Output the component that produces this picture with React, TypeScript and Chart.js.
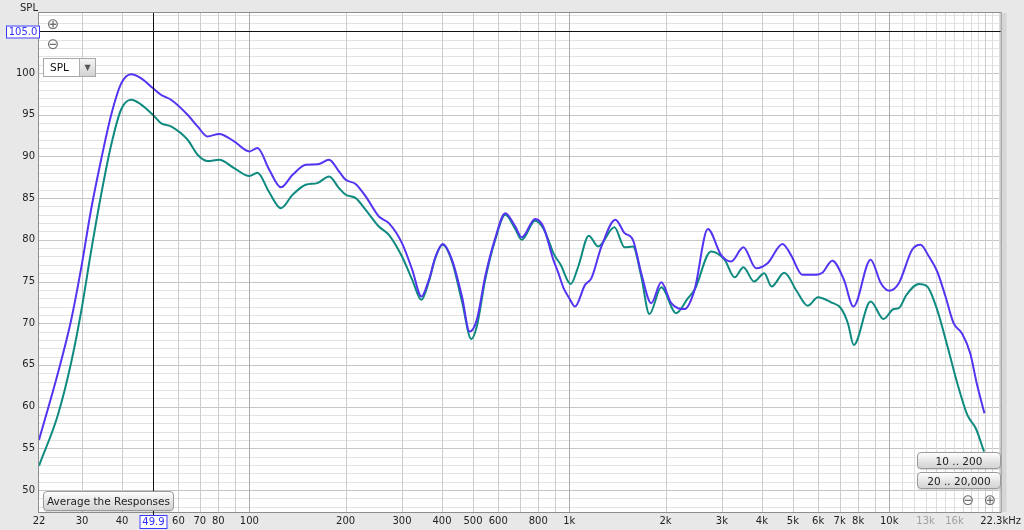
import React, { useEffect, useRef } from "react";
import { Chart, registerables } from "chart.js";

Chart.register(...registerables);

// ---- data ----
const upperFreq = [22, 25.2, 27.7, 29.8, 32, 34.4, 37, 39.7, 42.7, 45.8, 49.9, 52.9, 56.9, 64.1, 68.9, 74, 80.5, 89.6, 100, 106, 115.4, 125.5, 136.5, 150.4, 163.4, 177.5, 190.6, 200, 214.8, 231, 254, 273, 300, 323, 345, 364, 382, 402, 430, 462, 488, 514, 546, 587, 631, 678, 710, 782, 829, 892, 925, 960, 1000, 1042, 1120, 1173, 1261, 1394, 1490, 1581, 1679, 1804, 1939, 2084, 2294, 2464, 2712, 2981, 3205, 3502, 3834, 4167, 4642, 4928, 5356, 5823, 6180, 6640, 7222, 7730, 8750, 9420, 10000, 10720, 11800, 12530, 13310, 14130, 15000, 15900, 16880, 17920, 18780, 19850];
const upperSpl = [56.0, 64.0, 70.3, 76.6, 83.6, 89.6, 95.0, 98.7, 99.85, 99.4, 98.2, 97.4, 96.8, 95.0, 93.6, 92.4, 92.7, 91.8, 90.6, 91.0, 88.4, 86.3, 87.8, 89.0, 89.05, 89.6, 88.2, 87.2, 86.7, 85.2, 82.8, 82.0, 79.6, 76.4, 73.2, 75.2, 78.0, 79.5, 77.6, 73.2, 69.0, 70.4, 75.6, 80.2, 83.2, 81.6, 80.3, 82.5, 81.6, 77.6, 76.0, 74.2, 73.0, 72.0, 74.6, 75.4, 79.2, 82.4, 80.8, 80.0, 76.0, 72.4, 74.9, 72.4, 71.7, 74.0, 81.3, 78.2, 77.4, 79.1, 76.6, 77.2, 79.5, 78.2, 75.8, 75.8, 76.05, 77.5, 75.2, 72.0, 77.6, 74.8, 73.9, 74.8, 78.8, 79.4, 78.0, 76.2, 73.2, 70.0, 68.8, 66.4, 62.8, 59.2];

const lowerFreq = [22, 25.2, 27.7, 29.8, 32, 34.4, 37, 39.7, 42.7, 45.8, 49.9, 52.9, 56.9, 64.1, 68.9, 74, 80.5, 89.6, 100, 106, 115, 125.5, 136.5, 150, 163, 177.5, 190.6, 200, 215, 231, 254, 273, 300, 323, 345, 364, 382, 402, 430, 462, 494, 514, 546, 587, 631, 678, 710, 782, 829, 870, 892, 940, 1010, 1067, 1151, 1230, 1384, 1490, 1581, 1679, 1780, 1939, 2159, 2350, 2464, 2774, 3060, 3290, 3502, 3780, 4070, 4290, 4700, 5150, 5560, 5990, 6580, 7060, 7430, 7750, 8750, 9600, 10330, 10720, 11330, 12380, 13150, 14130, 15220, 16330, 17550, 18650, 19800];
const lowerSpl = [52.9, 59.0, 65.2, 71.4, 78.6, 85.4, 91.4, 95.6, 96.8, 96.25, 95.0, 94.0, 93.6, 92.0, 90.2, 89.45, 89.6, 88.6, 87.65, 88.05, 85.8, 83.8, 85.4, 86.6, 86.8, 87.6, 86.2, 85.4, 85.0, 83.6, 81.6, 80.6, 78.0, 75.2, 72.8, 75.0, 77.9, 79.4, 77.4, 72.6, 68.1, 69.6, 75.2, 80.0, 83.0, 81.3, 80.0, 82.3, 81.4, 79.5, 78.4, 77.0, 74.7, 76.8, 80.5, 79.2, 81.5, 79.1, 79.2, 75.6, 71.1, 74.3, 71.2, 73.0, 74.0, 78.6, 77.6, 75.5, 76.7, 75.0, 76.0, 74.4, 76.05, 73.8, 72.1, 73.1, 72.5, 71.8, 70.0, 67.4, 72.6, 70.5, 71.7, 71.8, 73.4, 74.7, 74.4, 71.6, 67.2, 62.8, 59.0, 57.4, 54.6];

const xTickValues = [22, 30, 40, 60, 70, 80, 100, 200, 300, 400, 500, 600, 800, 1000, 2000, 3000, 4000, 5000, 6000, 7000, 8000, 10000, 13000, 16000, 22300];
const greyXTicks = [13000, 16000];
const yTickValues = [50, 55, 60, 65, 70, 75, 80, 85, 90, 95, 100];
const cursorFreq = 49.9;
const cursorSpl = 105.0;

const X_MIN = 22;
const X_MAX = 22300;
const Y_MIN = 47.36;
const Y_MAX = 107.2;

const FONT = '"DejaVu Sans", "Liberation Sans", sans-serif';
const UPPER_COLOR = "#5533f2";
const LOWER_COLOR = "#0e8a80";

function fmtFreq(v: number): string {
  if (v === 22300) return "22.3kHz";
  if (v >= 1000) return v / 1000 + "k";
  return String(v);
}

function gridFreqs(): number[] {
  const out: number[] = [];
  for (const d of [10, 100, 1000]) {
    for (let m = 1; m <= 9; m++) {
      const f = m * d;
      if (f >= X_MIN && f <= X_MAX) out.push(f);
    }
  }
  for (let f = 10000; f <= 22000; f += 1000) out.push(f);
  return out;
}

const rewPlugin = {
  id: "rewPlugin",
  beforeDraw(chart: any) {
    const { ctx, chartArea: a, scales } = chart;
    const x = scales.x;
    const y = scales.y;
    ctx.save();
    ctx.fillStyle = "#e8e8e8";
    ctx.fillRect(0, 0, chart.width, chart.height);
    ctx.fillStyle = "#d6d6d6";
    ctx.fillRect(a.right, a.top, 6, a.bottom - a.top);
    ctx.fillStyle = "#ffffff";
    ctx.fillRect(a.left, a.top, a.right - a.left, a.bottom - a.top);
    ctx.lineWidth = 1;
    for (const major of [false, true]) {
      for (let v = Math.ceil(Y_MIN); v <= Math.floor(Y_MAX); v++) {
        const isMajor = v % 5 === 0;
        if (isMajor !== major) continue;
        const py = Math.round(y.getPixelForValue(v)) + 0.5;
        ctx.strokeStyle = isMajor ? "#c6c6c6" : "#e3e3e3";
        ctx.beginPath();
        ctx.moveTo(a.left, py);
        ctx.lineTo(a.right, py);
        ctx.stroke();
      }
    }
    for (const f of gridFreqs()) {
      const px = Math.round(x.getPixelForValue(f)) + 0.5;
      const decade = f === 100 || f === 1000 || f === 10000;
      const fine = f > 10000 && f !== 20000;
      ctx.strokeStyle = decade ? "#a9a9a9" : fine ? "#dcdcdc" : "#cccccc";
      ctx.beginPath();
      ctx.moveTo(px, a.top);
      ctx.lineTo(px, a.bottom);
      ctx.stroke();
    }
    ctx.restore();
  },
  afterDatasetsDraw(chart: any) {
    const { ctx, chartArea: a, scales } = chart;
    const x = scales.x;
    const y = scales.y;
    ctx.save();
    ctx.strokeStyle = "#8e8e8e";
    ctx.lineWidth = 1;
    ctx.strokeRect(a.left - 0.5, a.top - 0.5, a.right - a.left + 1, a.bottom - a.top + 1);
    const cx = Math.round(x.getPixelForValue(cursorFreq)) + 0.5;
    const cy = Math.round(y.getPixelForValue(cursorSpl)) + 0.5;
    ctx.strokeStyle = "#111111";
    ctx.beginPath();
    ctx.moveTo(cx, a.top);
    ctx.lineTo(cx, a.bottom + 5);
    ctx.moveTo(a.left, cy);
    ctx.lineTo(a.right, cy);
    ctx.stroke();
    ctx.font = "10px " + FONT;
    ctx.textBaseline = "middle";
    ctx.textAlign = "center";
    const drawBox = (text: string, bx: number, by: number, bw: number, bh: number) => {
      ctx.fillStyle = "#ffffff";
      ctx.fillRect(bx, by, bw, bh);
      ctx.strokeStyle = "#3a3aff";
      ctx.strokeRect(bx + 0.5, by + 0.5, bw - 1, bh - 1);
      ctx.fillStyle = "#2f2fff";
      ctx.fillText(text, bx + bw / 2, by + bh / 2 + 0.5);
    };
    drawBox(cursorFreq.toFixed(1), cx - 14, a.bottom + 3, 28, 14);
    drawBox(cursorSpl.toFixed(1), 6, cy - 6, 34, 13);
    ctx.restore();
  },
};

const btn: React.CSSProperties = {
  position: "absolute",
  boxSizing: "border-box",
  border: "1px solid #9a9a9a",
  borderRadius: 4,
  background: "linear-gradient(#fdfdfd, #e2e2e2 60%, #d4d4d4)",
  fontFamily: FONT,
  fontSize: 10.5,
  color: "#222",
  display: "flex",
  alignItems: "center",
  justifyContent: "center",
  boxShadow: "0 1px 1px rgba(0,0,0,0.15)",
};

const sym: React.CSSProperties = {
  position: "absolute",
  fontFamily: FONT,
  fontSize: 15,
  color: "#707070",
  lineHeight: "15px",
  width: 16,
  textAlign: "center",
};

export default function App() {
  const canvasRef = useRef<HTMLCanvasElement | null>(null);

  useEffect(() => {
    const canvas = canvasRef.current;
    if (!canvas) return;
    const chart = new Chart(canvas, {
      type: "line",
      data: {
        datasets: [
          {
            label: "Response 1",
            data: upperFreq.map((f, i) => ({ x: f, y: upperSpl[i] })),
            borderColor: UPPER_COLOR,
            borderWidth: 2,
            pointRadius: 0,
            fill: false,
            cubicInterpolationMode: "monotone",
          },
          {
            label: "Response 2",
            data: lowerFreq.map((f, i) => ({ x: f, y: lowerSpl[i] })),
            borderColor: LOWER_COLOR,
            borderWidth: 2,
            pointRadius: 0,
            fill: false,
            cubicInterpolationMode: "monotone",
          },
        ],
      },
      options: {
        animation: false,
        responsive: false,
        maintainAspectRatio: false,
        events: [],
        layout: { padding: { top: 13, right: 20, left: 0, bottom: 0 } },
        plugins: { legend: { display: false }, tooltip: { enabled: false } },
        scales: {
          x: {
            type: "logarithmic",
            min: X_MIN,
            max: X_MAX,
            grid: { display: false, drawTicks: false },
            border: { display: false },
            afterBuildTicks: (s: any) => {
              s.ticks = xTickValues.map((v) => ({ value: v }));
            },
            afterFit: (s: any) => {
              s.height = 18;
            },
            ticks: {
              autoSkip: false,
              maxRotation: 0,
              minRotation: 0,
              padding: 3,
              font: { family: FONT, size: 10 },
              color: (c: any) => (c.tick && greyXTicks.includes(c.tick.value) ? "#a0a0a0" : "#1e1e1e"),
              callback: (v: any) => fmtFreq(Number(v)),
            },
          },
          y: {
            type: "linear",
            min: Y_MIN,
            max: Y_MAX,
            grid: { display: false, drawTicks: false },
            border: { display: false },
            afterBuildTicks: (s: any) => {
              s.ticks = yTickValues.map((v) => ({ value: v }));
            },
            afterFit: (s: any) => {
              s.width = 39;
            },
            ticks: {
              padding: 4,
              font: { family: FONT, size: 10 },
              color: "#1e1e1e",
              callback: (v: any) => String(v),
            },
          },
        },
      } as any,
      plugins: [rewPlugin as any],
    });
    return () => chart.destroy();
  }, []);

  return (
    <div
      style={{
        position: "absolute",
        left: 0,
        top: 0,
        width: 1024,
        height: 530,
        overflow: "hidden",
        background: "#e8e8e8",
        fontFamily: FONT,
      }}
    >
      <canvas ref={canvasRef} width={1024} height={530} style={{ display: "block", width: 1024, height: 530 }} />
      <div style={{ position: "absolute", left: 20, top: 2, fontSize: 10, color: "#222" }}>SPL</div>
      <div style={{ ...sym, left: 45, top: 17 }}>⊕</div>
      <div style={{ ...sym, left: 45, top: 37 }}>⊖</div>
      <div
        style={{
          position: "absolute",
          left: 43,
          top: 58,
          width: 53,
          height: 19,
          boxSizing: "border-box",
          border: "1px solid #a8a8a8",
          background: "#fff",
          display: "flex",
          fontSize: 10.5,
          color: "#111",
        }}
      >
        <div style={{ flex: 1, paddingLeft: 6, lineHeight: "17px" }}>SPL</div>
        <div
          style={{
            width: 15,
            borderLeft: "1px solid #b0b0b0",
            background: "linear-gradient(#f4f4f4, #d2d2d2)",
            fontSize: 8,
            color: "#555",
            textAlign: "center",
            lineHeight: "17px",
          }}
        >
          ▼
        </div>
      </div>
      <div style={{ ...btn, left: 43, top: 491, width: 131, height: 20 }}>Average the Responses</div>
      <div style={{ ...btn, left: 917, top: 452, width: 84, height: 17 }}>10 .. 200</div>
      <div style={{ ...btn, left: 917, top: 472, width: 84, height: 17 }}>20 .. 20,000</div>
      <div style={{ ...sym, left: 960, top: 493 }}>⊖</div>
      <div style={{ ...sym, left: 982, top: 493 }}>⊕</div>
    </div>
  );
}
